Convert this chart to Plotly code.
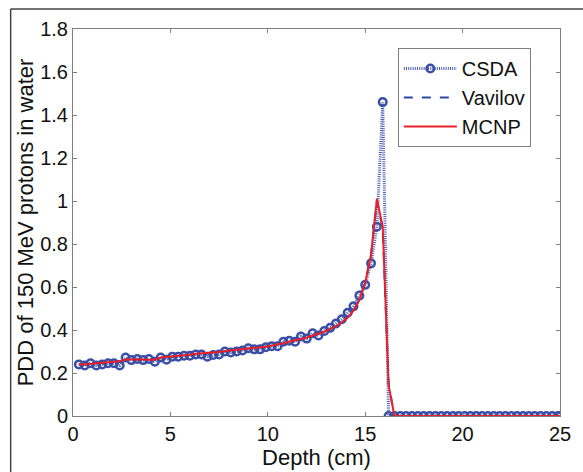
import plotly.graph_objects as go

depth_cm = [0.3, 0.6, 0.9, 1.2, 1.5, 1.8, 2.1, 2.4, 2.7, 3.0,
            3.3, 3.6, 3.9, 4.2, 4.5, 4.8, 5.1, 5.4, 5.7, 6.0,
            6.3, 6.6, 6.9, 7.2, 7.5, 7.8, 8.1, 8.4, 8.7, 9.0,
            9.3, 9.6, 9.9, 10.2, 10.5, 10.8, 11.1, 11.4, 11.7, 12.0,
            12.3, 12.6, 12.9, 13.2, 13.5, 13.8, 14.1, 14.4, 14.7, 15.0,
            15.3, 15.6, 15.9, 16.2, 16.5, 16.8, 17.1, 17.4, 17.7, 18.0,
            18.3, 18.6, 18.9, 19.2, 19.5, 19.8, 20.1, 20.4, 20.7, 21.0,
            21.3, 21.6, 21.9, 22.2, 22.5, 22.8, 23.1, 23.4, 23.7, 24.0,
            24.3, 24.6, 24.9, 25.0]

csda = [0.240, 0.235, 0.245, 0.235, 0.240, 0.245, 0.245, 0.235, 0.272, 0.260,
        0.265, 0.260, 0.265, 0.252, 0.272, 0.262, 0.276, 0.276, 0.280, 0.280,
        0.286, 0.286, 0.276, 0.284, 0.286, 0.300, 0.295, 0.300, 0.305, 0.315,
        0.310, 0.310, 0.320, 0.325, 0.325, 0.345, 0.350, 0.345, 0.370, 0.360,
        0.385, 0.375, 0.395, 0.410, 0.430, 0.450, 0.480, 0.510, 0.560, 0.610,
        0.710, 0.880, 1.460, 0.0, 0.0, 0.0, 0.0, 0.0, 0.0, 0.0,
        0.0, 0.0, 0.0, 0.0, 0.0, 0.0, 0.0, 0.0, 0.0, 0.0,
        0.0, 0.0, 0.0, 0.0, 0.0, 0.0, 0.0, 0.0, 0.0, 0.0,
        0.0, 0.0, 0.0, 0.0]

vavilov = [0.241, 0.240, 0.243, 0.244, 0.246, 0.248, 0.251, 0.255, 0.262, 0.263,
           0.263, 0.263, 0.262, 0.263, 0.271, 0.274, 0.276, 0.279, 0.282, 0.285,
           0.289, 0.291, 0.291, 0.295, 0.298, 0.302, 0.304, 0.307, 0.310, 0.313,
           0.316, 0.319, 0.323, 0.327, 0.332, 0.338, 0.344, 0.350, 0.357, 0.365,
           0.373, 0.382, 0.392, 0.404, 0.418, 0.435, 0.458, 0.490, 0.540, 0.620,
           0.750, 1.000, 0.870, 0.150, 0.0, 0.0, 0.0, 0.0, 0.0, 0.0,
           0.0, 0.0, 0.0, 0.0, 0.0, 0.0, 0.0, 0.0, 0.0, 0.0,
           0.0, 0.0, 0.0, 0.0, 0.0, 0.0, 0.0, 0.0, 0.0, 0.0,
           0.0, 0.0, 0.0, 0.0]

mcnp = [0.242, 0.240, 0.243, 0.245, 0.246, 0.248, 0.250, 0.255, 0.263, 0.264,
        0.263, 0.263, 0.262, 0.262, 0.272, 0.274, 0.276, 0.278, 0.282, 0.285,
        0.290, 0.292, 0.291, 0.295, 0.298, 0.302, 0.305, 0.306, 0.310, 0.314,
        0.316, 0.318, 0.322, 0.328, 0.332, 0.338, 0.345, 0.350, 0.358, 0.365,
        0.373, 0.382, 0.392, 0.405, 0.418, 0.435, 0.458, 0.490, 0.540, 0.620,
        0.750, 1.010, 0.880, 0.145, 0.0, 0.0, 0.0, 0.0, 0.0, 0.0,
        0.0, 0.0, 0.0, 0.0, 0.0, 0.0, 0.0, 0.0, 0.0, 0.0,
        0.0, 0.0, 0.0, 0.0, 0.0, 0.0, 0.0, 0.0, 0.0, 0.0,
        0.0, 0.0, 0.0, 0.0]

x_ticks = [0, 5, 10, 15, 20, 25]
y_ticks = [0, 0.2, 0.4, 0.6, 0.8, 1.0, 1.2, 1.4, 1.6, 1.8]
y_tick_text = ["0", "0.2", "0.4", "0.6", "0.8", "1", "1.2", "1.4", "1.6", "1.8"]

BLUE = "#3a4ea6"
RED = "#e8202a"
FONT = "Liberation Sans, Arial, sans-serif"
TICK_SIZE = 20
TITLE_SIZE = 22

fig = go.Figure()
fig.add_trace(go.Scatter(
    x=depth_cm, y=csda, name="CSDA", mode="lines+markers",
    line=dict(color="#4a5db3", width=3, dash="1px,1.2px"),
    marker=dict(symbol="circle-open", size=7.5, color=BLUE, line=dict(width=2.5, color=BLUE)),
))
fig.add_trace(go.Scatter(
    x=depth_cm, y=vavilov, name="Vavilov", mode="lines",
    line=dict(color="#2f46a0", width=2, dash="dash"),
))
fig.add_trace(go.Scatter(
    x=depth_cm, y=mcnp, name="MCNP", mode="lines",
    line=dict(color=RED, width=2),
))

axis_common = dict(
    showgrid=False, zeroline=False, showline=True, linecolor="#7f7f7f", linewidth=1,
    mirror="ticks", ticks="inside", ticklen=4, tickcolor="#7f7f7f",
    tickfont=dict(family=FONT, size=TICK_SIZE, color="#111"),
)

fig.update_xaxes(
    range=[0, 25], tickvals=x_ticks, ticktext=[str(v) for v in x_ticks],
    title=dict(text="Depth (cm)", font=dict(family=FONT, size=TITLE_SIZE, color="#111"), standoff=0),
    **axis_common,
)
fig.update_yaxes(
    range=[0, 1.8], tickvals=y_ticks, ticktext=y_tick_text,
    title=dict(text="PDD of 150 MeV protons in water", font=dict(family=FONT, size=TITLE_SIZE, color="#111"), standoff=0),
    **axis_common,
)

# outer frame (top and left edges visible)
fig.add_shape(type="line", xref="paper", yref="paper", x0=-0.128, x1=1.2, y0=1.052, y1=1.052,
              line=dict(color="#444", width=1.5))
fig.add_shape(type="line", xref="paper", yref="paper", x0=-0.128, x1=-0.128, y0=-0.3, y1=1.052,
              line=dict(color="#444", width=1.5))

fig.update_layout(
    width=583, height=472,
    margin=dict(l=73, r=17, t=29, b=56),
    paper_bgcolor="white", plot_bgcolor="white",
    font=dict(family=FONT, size=TICK_SIZE, color="#111"),
    legend=dict(
        x=0.667, y=0.951, xanchor="left", yanchor="top",
        bordercolor="#7f7f7f", borderwidth=1, bgcolor="white",
        font=dict(family=FONT, size=20, color="#111"),
        tracegroupgap=0, itemwidth=53,
    ),
)

fig.write_html("out.html", post_script="document.body.style.margin='0';",
               config={"displayModeBar": False})
